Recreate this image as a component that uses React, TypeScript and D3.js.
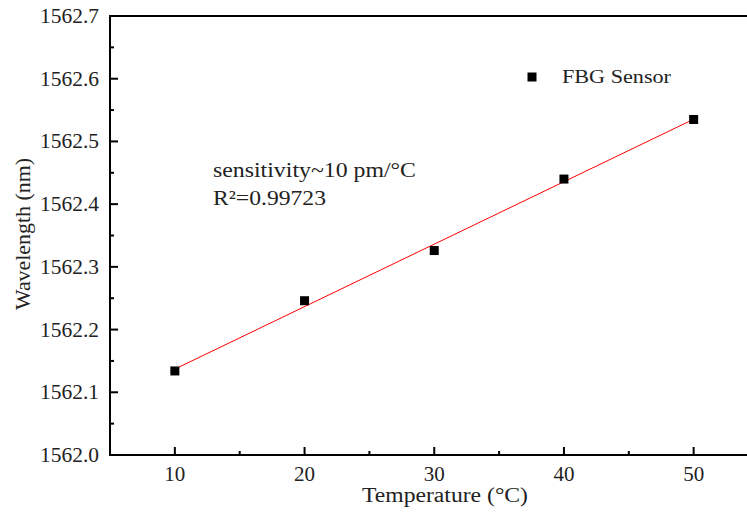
import React from "react";
import * as d3 from "d3";

const temperatures = [10, 20, 30, 40, 50];
const wavelengths = [1562.134, 1562.246, 1562.326, 1562.44, 1562.535];
const xTicks = [10, 20, 30, 40, 50];
const yTicks = [1562.0, 1562.1, 1562.2, 1562.3, 1562.4, 1562.5, 1562.6, 1562.7];
const xMinorTicks = [15, 25, 35, 45];
const yMinorTicks = [1562.05, 1562.15, 1562.25, 1562.35, 1562.45, 1562.55, 1562.65];
const legendLabel = "FBG Sensor";
const annotationLines = ["sensitivity~10 pm/°C", "R²=0.99723"];
const xTitle = "Temperature (°C)";
const yTitle = "Wavelength (nm)";

const W = 747;
const H = 513;
const left = 110;
const top = 16;
const bottom = 455;
const font = "'Liberation Serif', 'Times New Roman', serif";

export default function App() {
  const x = d3.scaleLinear().domain([5, 55]).range([left, left + 50 * 12.97]);
  const y = d3.scaleLinear().domain([1562.0, 1562.7]).range([bottom, top]);

  // least squares fit
  const mx = d3.mean(temperatures)!;
  const my = d3.mean(wavelengths)!;
  let sxy = 0, sxx = 0;
  temperatures.forEach((t, i) => {
    sxy += (t - mx) * (wavelengths[i] - my);
    sxx += (t - mx) * (t - mx);
  });
  const slope = sxy / sxx;
  const intercept = my - slope * mx;
  const x0 = temperatures[0];
  const x1 = temperatures[temperatures.length - 1];
  const line = d3.line<number>().x((t) => x(t)).y((t) => y(intercept + slope * t));

  const ms = 9;
  const right = W + 5;

  return (
    <svg width={W} height={H} style={{ position: "absolute", left: 0, top: 0, background: "#fff" }}>
      <rect x={0} y={0} width={W} height={H} fill="#fff" />
      {/* fit line */}
      <path d={line([x0, x1]) || ""} fill="none" stroke="#ff0000" strokeWidth={1} />
      {/* points */}
      {temperatures.map((t, i) => (
        <rect key={i} x={x(t) - ms / 2} y={y(wavelengths[i]) - ms / 2} width={ms} height={ms} fill="#000" />
      ))}
      {/* axes */}
      <line x1={left} y1={bottom} x2={right} y2={bottom} stroke="#000" strokeWidth={2} />
      <line x1={left} y1={top} x2={right} y2={top} stroke="#000" strokeWidth={2} />
      <line x1={left} y1={top - 1} x2={left} y2={bottom + 1} stroke="#000" strokeWidth={2} />
      {xTicks.map((t) => (
        <g key={"xt" + t}>
          <line x1={x(t)} x2={x(t)} y1={bottom} y2={bottom - 8} stroke="#000" strokeWidth={2} />
          <text x={x(t)} y={481} textAnchor="middle" fontFamily={font} fontSize={21} fill="#222">
            {t}
          </text>
        </g>
      ))}
      {xMinorTicks.map((t) => (
        <line key={"xm" + t} x1={x(t)} x2={x(t)} y1={bottom} y2={bottom - 4} stroke="#000" strokeWidth={2} />
      ))}
      {yTicks.map((v) => (
        <g key={"yt" + v}>
          <line x1={left} x2={left + 8} y1={y(v)} y2={y(v)} stroke="#000" strokeWidth={2} />
          <text x={99} y={y(v) + 7} textAnchor="end" fontFamily={font} fontSize={21} fill="#222"
            textLength={59} lengthAdjust="spacingAndGlyphs">
            {v.toFixed(1)}
          </text>
        </g>
      ))}
      {yMinorTicks.map((v) => (
        <line key={"ym" + v} x1={left} x2={left + 4} y1={y(v)} y2={y(v)} stroke="#000" strokeWidth={2} />
      ))}
      {/* titles */}
      <text x={445} y={502} textAnchor="middle" fontFamily={font} fontSize={20} fill="#222"
        textLength={166} lengthAdjust="spacingAndGlyphs">
        {xTitle}
      </text>
      <text transform={`translate(30, 234) rotate(-90)`} textAnchor="middle" fontFamily={font} fontSize={21}
        fill="#222" textLength={152} lengthAdjust="spacingAndGlyphs">
        {yTitle}
      </text>
      {/* legend */}
      <rect x={532 - 4.5} y={77 - 4.5} width={9} height={9} fill="#000" />
      <text x={562} y={83} fontFamily={font} fontSize={19} fill="#222" textLength={109}
        lengthAdjust="spacingAndGlyphs">
        {legendLabel}
      </text>
      {/* annotation */}
      <text x={213} y={177} fontFamily={font} fontSize={21} fill="#222" textLength={203}
        lengthAdjust="spacingAndGlyphs">
        {annotationLines[0]}
      </text>
      <text x={213} y={205} fontFamily={font} fontSize={21} fill="#222" textLength={113}
        lengthAdjust="spacingAndGlyphs">
        {annotationLines[1]}
      </text>
    </svg>
  );
}
